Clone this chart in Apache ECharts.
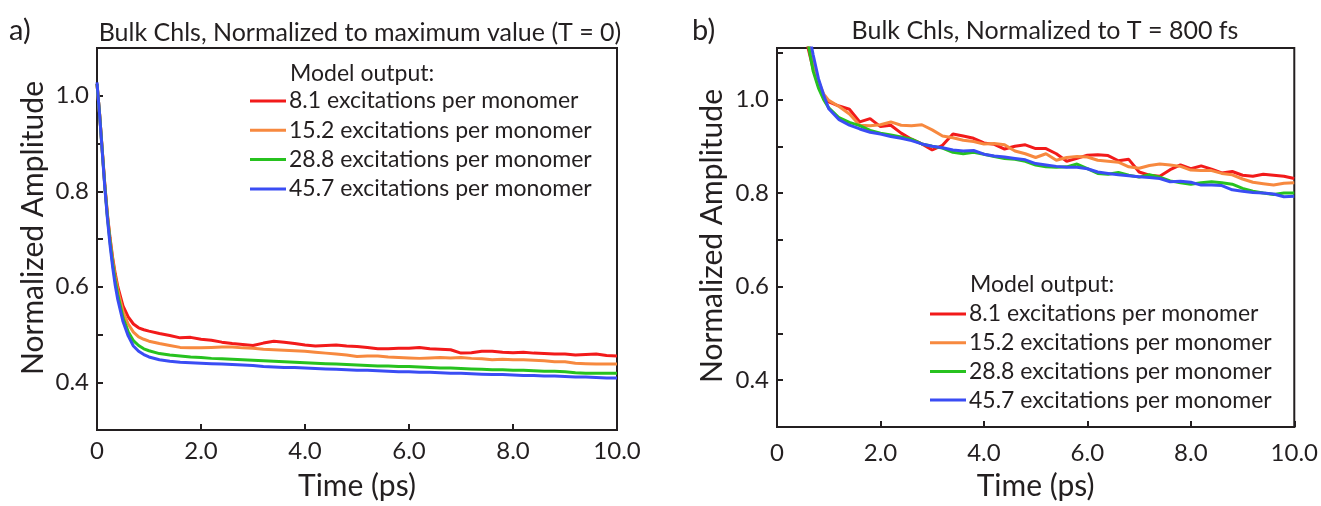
<!DOCTYPE html>
<html>
<head>
<meta charset="utf-8">
<script src="https://cdn.jsdelivr.net/npm/echarts@6/dist/echarts.min.js"></script>
<style>
  html, body { margin: 0; padding: 0; background: #fff; }
  #chart { width: 1321px; height: 506px; }
</style>
</head>
<body>
<div id="chart"></div>
<script>
// Excitation densities (legend entries)
const seriesNames = [
  '8.1 excitations per monomer',
  '15.2 excitations per monomer',
  '28.8 excitations per monomer',
  '45.7 excitations per monomer'
];

// Panel a: time axis (ps) and amplitudes normalized to T = 0
const timeA = [0, 0.05, 0.1, 0.15, 0.2, 0.25, 0.3, 0.35, 0.4, 0.5, 0.6, 0.7, 0.8, 0.9,
  1.0, 1.2, 1.4, 1.6, 1.8, 2.0, 2.2, 2.4, 2.6, 2.8, 3.0, 3.2, 3.4, 3.6, 3.8, 4.0,
  4.2, 4.4, 4.6, 4.8, 5.0, 5.2, 5.4, 5.6, 5.8, 6.0, 6.2, 6.4, 6.6, 6.8, 7.0,
  7.2, 7.4, 7.6, 7.8, 8.0, 8.2, 8.4, 8.6, 8.8, 9.0, 9.2, 9.4, 9.6, 9.8, 10.0];

const a81 = [1.025, 0.962, 0.888, 0.815, 0.752, 0.703, 0.662, 0.628, 0.600, 0.560, 0.537, 0.522, 0.514, 0.510,
  0.507, 0.502, 0.498, 0.493, 0.494,
  0.490, 0.488, 0.484, 0.481, 0.479, 0.477, 0.482, 0.486, 0.484, 0.481, 0.478,
  0.476, 0.477, 0.478, 0.476, 0.475, 0.473, 0.470, 0.470, 0.471, 0.471,
  0.473, 0.470, 0.469, 0.468, 0.461, 0.462, 0.465, 0.465, 0.463, 0.462,
  0.463, 0.461, 0.460, 0.459, 0.459, 0.457, 0.458, 0.459, 0.456, 0.455];

const a152 = [1.025, 0.962, 0.887, 0.813, 0.750, 0.700, 0.657, 0.622, 0.593, 0.548, 0.522, 0.505, 0.495, 0.490,
  0.486, 0.481, 0.477, 0.473, 0.472,
  0.472, 0.473, 0.474, 0.474, 0.472, 0.471, 0.469, 0.468, 0.467, 0.466, 0.465,
  0.463, 0.461, 0.459, 0.457, 0.454, 0.455, 0.455, 0.453, 0.452, 0.451,
  0.450, 0.451, 0.452, 0.451, 0.452, 0.450, 0.449, 0.447, 0.448, 0.447,
  0.447, 0.446, 0.445, 0.443, 0.443, 0.440, 0.439, 0.438, 0.438, 0.438];

const a288 = [1.025, 0.961, 0.886, 0.811, 0.747, 0.695, 0.650, 0.613, 0.583, 0.535, 0.506, 0.487, 0.477, 0.470,
  0.466, 0.460, 0.457, 0.455, 0.453,
  0.452, 0.450, 0.449, 0.448, 0.447, 0.446, 0.445, 0.444, 0.443, 0.442, 0.441,
  0.440, 0.439, 0.438, 0.437, 0.436, 0.435, 0.434, 0.434, 0.433, 0.433,
  0.432, 0.431, 0.430, 0.430, 0.429, 0.428, 0.427, 0.426, 0.426, 0.425,
  0.425, 0.424, 0.423, 0.423, 0.422, 0.420, 0.419, 0.419, 0.419, 0.419];

const a457 = [1.028, 0.960, 0.884, 0.808, 0.743, 0.688, 0.642, 0.603, 0.573, 0.527, 0.497, 0.476, 0.465, 0.458,
  0.453, 0.447, 0.444, 0.442, 0.441,
  0.440, 0.439, 0.438, 0.437, 0.436, 0.435, 0.433, 0.432, 0.431, 0.431, 0.430,
  0.429, 0.428, 0.427, 0.426, 0.425, 0.425, 0.424, 0.423, 0.422, 0.422,
  0.421, 0.421, 0.420, 0.419, 0.419, 0.418, 0.417, 0.416, 0.416, 0.415,
  0.414, 0.414, 0.413, 0.413, 0.412, 0.411, 0.411, 0.410, 0.409, 0.409];

// Panel b: time axis (ps) and amplitudes normalized to T = 800 fs
const timeB = [0.5, 0.6, 0.7, 0.8, 0.9,
  1.0, 1.2, 1.4, 1.6, 1.8, 2.0, 2.2, 2.4, 2.6, 2.8, 3.0, 3.2, 3.4, 3.6, 3.8, 4.0,
  4.2, 4.4, 4.6, 4.8, 5.0, 5.2, 5.4, 5.6, 5.8, 6.0, 6.2, 6.4, 6.6, 6.8, 7.0,
  7.2, 7.4, 7.6, 7.8, 8.0, 8.2, 8.4, 8.6, 8.8, 9.0, 9.2, 9.4, 9.6, 9.8, 10.0];

const b81 = [1.22, 1.11, 1.065, 1.03, 1.005,
  0.995, 0.986, 0.979, 0.952, 0.959,
  0.942, 0.945, 0.928, 0.915, 0.905, 0.892, 0.902, 0.926, 0.922, 0.917,
  0.907, 0.904, 0.894, 0.900, 0.903, 0.895, 0.895, 0.884, 0.868, 0.874,
  0.881, 0.882, 0.880, 0.869, 0.872, 0.845, 0.838, 0.836, 0.850, 0.860,
  0.852, 0.858, 0.851, 0.843, 0.846, 0.838, 0.836, 0.840, 0.838, 0.836, 0.831];

const b152 = [1.24, 1.13, 1.075, 1.04, 1.012,
  0.998, 0.985, 0.969, 0.945, 0.944,
  0.946, 0.952, 0.945, 0.944, 0.946, 0.935, 0.922, 0.918, 0.913, 0.910,
  0.905, 0.906, 0.903, 0.890, 0.884, 0.876, 0.884, 0.870, 0.876, 0.878,
  0.877, 0.870, 0.868, 0.866, 0.856, 0.853, 0.859, 0.862, 0.860, 0.857,
  0.849, 0.848, 0.848, 0.842, 0.839, 0.830, 0.823, 0.820, 0.817, 0.821, 0.822];

const b288 = [1.20, 1.12, 1.06, 1.025, 1.0,
  0.982, 0.961, 0.951, 0.944, 0.934,
  0.928, 0.924, 0.920, 0.915, 0.905, 0.900, 0.896, 0.887, 0.884, 0.887,
  0.883, 0.878, 0.874, 0.872, 0.868, 0.860, 0.856, 0.855, 0.856, 0.862,
  0.852, 0.842, 0.840, 0.844, 0.838, 0.834, 0.839, 0.834, 0.826, 0.822,
  0.819, 0.822, 0.824, 0.822, 0.819, 0.810, 0.804, 0.800, 0.797, 0.800, 0.800];

const b457 = [1.25, 1.15, 1.095, 1.045, 1.01,
  0.98, 0.957, 0.945, 0.937, 0.930,
  0.926, 0.921, 0.917, 0.912, 0.905, 0.900, 0.897, 0.892, 0.890, 0.891,
  0.883, 0.879, 0.877, 0.874, 0.871, 0.863, 0.860, 0.857, 0.855, 0.855,
  0.852, 0.845, 0.842, 0.839, 0.837, 0.835, 0.833, 0.831, 0.824, 0.825,
  0.823, 0.817, 0.817, 0.816, 0.807, 0.804, 0.801, 0.800, 0.798, 0.792, 0.793];

// Tick labels
const xTickLabels = ['0', '2.0', '4.0', '6.0', '8.0', '10.0'];
const yTickLabels = ['0.4', '0.6', '0.8', '1.0'];

const colors = ['#f21a1a', '#f7893f', '#27c21f', '#3a4df4'];
const ink = '#231f20';
const font = 'Lato';

const zip = (t, v) => t.map((x, i) => [x, v[i]]);

function xAxisFor(grid, labelMargin, nameGap) {
  return {
    gridIndex: grid, type: 'value', min: 0, max: 10, interval: 2,
    axisLine: { show: true, onZero: false, lineStyle: { color: ink, width: 2 } },
    axisTick: { show: true, inside: true, length: 6, lineStyle: { color: ink, width: 2 } },
    axisLabel: {
      color: ink, fontSize: 24, fontFamily: font, margin: labelMargin,
      formatter: v => xTickLabels[Math.round(v / 2)] || ''
    },
    splitLine: { show: false },
    name: 'Time (ps)', nameLocation: 'middle', nameGap: nameGap,
    nameTextStyle: { color: ink, fontSize: 30, fontFamily: font }
  };
}

function yAxisFor(grid, max) {
  return {
    gridIndex: grid, type: 'value', min: 0.3, max: max, interval: 0.1,
    axisLine: { show: true, onZero: false, lineStyle: { color: ink, width: 2 } },
    axisTick: { show: true, inside: true, length: 6, lineStyle: { color: ink, width: 2 } },
    axisLabel: {
      color: ink, fontSize: 24, fontFamily: font, margin: 8,
      formatter: v => { const s = v.toFixed(1); return yTickLabels.includes(s) && Math.abs(v - parseFloat(s)) < 1e-6 ? s : ''; }
    },
    splitLine: { show: false }
  };
}

function lineSeries(name, i, data, grid) {
  return {
    type: 'line', name: name, xAxisIndex: grid, yAxisIndex: grid,
    data: data, showSymbol: false, symbol: 'none', clip: true,
    lineStyle: { color: colors[i], width: 3 }, itemStyle: { color: colors[i] },
    z: 2 + i
  };
}

function legendFor(left, top, gap) {
  return {
    orient: 'vertical', left: left, top: top, padding: 0,
    itemWidth: 36, itemHeight: 3, itemGap: gap, icon: 'rect',
    selectedMode: false, data: seriesNames,
    textStyle: { color: ink, fontSize: 23, fontFamily: font, lineHeight: 23, padding: [0, 0, 0, -2] }
  };
}

const panelA = [a81, a152, a288, a457];
const panelB = [b81, b152, b288, b457];

const option = {
  animation: false,
  backgroundColor: '#fff',
  grid: [
    { left: 97, top: 48, width: 520, height: 386, show: true, borderColor: ink, borderWidth: 2, backgroundColor: 'transparent' },
    { left: 777, top: 48, width: 521, height: 391, show: true, borderColor: ink, borderWidth: 2, backgroundColor: 'transparent' }
  ],
  xAxis: [xAxisFor(0, 9, 41), xAxisFor(1, 14, 44)],
  yAxis: [yAxisFor(0, 1.1), yAxisFor(1, 1.11)],
  legend: [legendFor(250, 89.5, 6.3), legendFor(930, 302.5, 5.7)],
  title: [
    { text: 'Bulk Chls, Normalized to maximum value (T = 0)', left: 355, top: 15, textAlign: 'center',
      textStyle: { color: ink, fontSize: 25, fontWeight: 'normal', fontFamily: font } },
    { text: 'Bulk Chls, Normalized to T = 800 fs', left: 1040, top: 13, textAlign: 'center',
      textStyle: { color: ink, fontSize: 25, fontWeight: 'normal', fontFamily: font } }
  ],
  graphic: [
    { type: 'text', x: 9, y: 31, style: { text: 'a)', fill: ink, font: '29px ' + font, verticalAlign: 'middle' } },
    { type: 'text', x: 692, y: 31, style: { text: 'b)', fill: ink, font: '29px ' + font, verticalAlign: 'middle' } },
    { type: 'text', x: 290, y: 74, style: { text: 'Model output:', fill: ink, font: '23px ' + font, verticalAlign: 'middle' } },
    { type: 'text', x: 970, y: 285, style: { text: 'Model output:', fill: ink, font: '23px ' + font, verticalAlign: 'middle' } },
    { type: 'text', x: 33, y: 228, rotation: Math.PI / 2,
      style: { text: 'Normalized Amplitude', fill: ink, font: '30px ' + font, align: 'center', verticalAlign: 'middle' } },
    { type: 'text', x: 712, y: 236, rotation: Math.PI / 2,
      style: { text: 'Normalized Amplitude', fill: ink, font: '30px ' + font, align: 'center', verticalAlign: 'middle' } }
  ],
  series: [
    ...panelA.map((v, i) => lineSeries(seriesNames[i], i, zip(timeA, v), 0)),
    ...panelB.map((v, i) => lineSeries(seriesNames[i], i, zip(timeB, v), 1))
  ]
};

const chart = echarts.init(document.getElementById('chart'), null, { renderer: 'canvas' });
chart.setOption(option);
</script>
</body>
</html>
